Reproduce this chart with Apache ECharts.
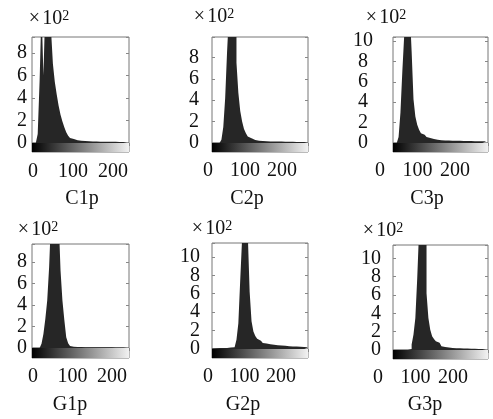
<!DOCTYPE html>
<html><head><meta charset="utf-8">
<script src="https://cdn.jsdelivr.net/npm/echarts@6/dist/echarts.min.js"></script>
<style>html,body{margin:0;padding:0;background:#fff}#c{width:493px;height:419px}</style>
</head><body><div id="c"></div>
<script>
// ---- data (counts in units of 10^2, bins of 5 gray levels starting at 0) ----
const BIN_WIDTH = 5;
const panelNames = ['C1p', 'C2p', 'C3p', 'G1p', 'G2p', 'G3p'];
const xTickLabels = [0, 100, 200];
const yMaxC1 = 9.4, yMaxC2 = 9.9, yMaxC3 = 10.4, yMaxG1 = 9.65, yMaxG2 = 11.5, yMaxG3 = 11.45;
const histC1 = [0,0,0,0.8,5.5,12,6,12,12,12, 10,7.0,5.4,4.3,3.3,2.5,1.9,1.4,0.95,0.65, 0.45,0.35,0.28,0.24,0.21,0.19,0.18,0.17,0.16,0.15, 0.15,0.14,0.14,0.13,0.13,0.12,0.12,0.12,0.11,0.11, 0.11,0.1,0.1,0.1,0.1,0.09,0.09,0.09,0.08,0.08,0.08];
const histC2 = [0,0,0,0,0.05,0.3,1.5,4.2,8.5,12, 12,12,12,7.5,4.7,3.0,2.0,1.3,0.92,0.6, 0.45,0.34,0.28,0.24,0.21,0.19,0.18,0.17,0.16,0.15, 0.15,0.14,0.14,0.14,0.13,0.13,0.13,0.12,0.12,0.12, 0.12,0.11,0.11,0.11,0.1,0.1,0.1,0.1,0.1,0.09,0.09];
const histC3 = [0,0,0.02,0.6,3.0,7.0,10.5,13,13,13, 9,4.3,2.6,1.8,1.3,0.95,0.8,0.67,0.58,0.5, 0.45,0.4,0.36,0.33,0.3,0.27,0.26,0.25,0.25,0.24, 0.23,0.23,0.22,0.22,0.21,0.21,0.2,0.2,0.2,0.19, 0.19,0.19,0.18,0.18,0.18,0.18,0.17,0.17,0.17,0.17,0.17];
const histG1 = [0,0,0,0,0.05,0.4,1.3,2.7,4.4,7.5, 12,12,12,12,12,7.2,4.4,2.6,1.0,0.45, 0.18,0.12,0.1,0.1,0.09,0.09,0.08,0.08,0.08,0.08, 0.07,0.07,0.07,0.07,0.07,0.06,0.06,0.06,0.06,0.06, 0.06,0.06,0.05,0.05,0.05,0.05,0.05,0.05,0.05,0.05,0.05];
const histG2 = [0.05,0.08,0.1,0.1,0.1,0.1,0.12,0.12,0.14,0.15, 0.17,0.2,0.35,1.0,2.8,7.5,12,13,13,12.5, 6.2,3.0,1.9,1.4,1.1,0.9,0.75,0.65,0.6,0.56, 0.52,0.5,0.47,0.45,0.42,0.4,0.38,0.36,0.34,0.32, 0.3,0.29,0.28,0.27,0.26,0.25,0.24,0.23,0.22,0.21,0.2];
const histG3 = [0,0,0,0,0,0,0,0,0,0.1, 0.6,1.7,3.5,7.8,13,13,13,13,6.2,3.5, 2.2,1.5,1.2,0.95,0.8,0.6,0.42,0.34,0.3,0.27, 0.25,0.23,0.21,0.2,0.19,0.18,0.17,0.16,0.15,0.15, 0.14,0.14,0.13,0.13,0.12,0.12,0.11,0.11,0.1,0.1,0.1];
const grayMax = 255;

const hists = [histC1, histC2, histC3, histG1, histG2, histG3];
const yMaxes = [yMaxC1, yMaxC2, yMaxC3, yMaxG1, yMaxG2, yMaxG3];

// ---- layout (pixels) ----
const layout = [
  {l:32, t:37, w:97, h:106, cb:9, gap:5,  yAlign:'right',  xl0:33,  xl2:113, xlY:172, tx:82,  ty:199, sx:49,  sy:19},
  {l:212,t:37, w:96, h:106, cb:9, gap:13, yAlign:'right',  xl0:208, xl2:282, xlY:171, tx:247, ty:199, sx:214, sy:17},
  {l:393,t:37, w:95, h:106, cb:9, gap:30, yAlign:'center', xl0:380, xl2:455, xlY:171, tx:427, ty:199, sx:386, sy:18},
  {l:32, t:244,w:97, h:104, cb:10,gap:5,  yAlign:'right',  xl0:33,  xl2:112, xlY:377, tx:70,  ty:405, sx:38,  sy:230},
  {l:212,t:243,w:96, h:106, cb:9, gap:12, yAlign:'right',  xl0:208, xl2:281, xlY:377, tx:243, ty:405, sx:212, sy:229},
  {l:393,t:245,w:95, h:105, cb:9, gap:12, yAlign:'right',  xl0:378, xl2:453, xlY:378, tx:425, ty:405, sx:383, sy:231}
];

const FONT = 'Liberation Serif, Times New Roman, serif';
const FS = 20;
const grid = [], xAxis = [], yAxis = [], series = [], graphic = [];

hists.forEach((h, i) => {
  const L = layout[i];
  const g0 = grid.length;
  const u = (L.xl2 - L.xl0) / 200;           // px per gray level on the label row
  const ppu = L.h / yMaxes[i];               // px per count unit
  grid.push({left:L.l, top:L.t, width:L.w, height:L.h, show:true, borderColor:'#777', borderWidth:1, backgroundColor:'#fff', containLabel:false});
  grid.push({left:L.l, top:L.t + L.h, width:L.w, height:L.cb, show:true, borderColor:'#777', borderWidth:1, containLabel:false});
  grid.push({left:L.xl0 - 50 * u, top:L.xlY - 21, width:300 * u, height:1, show:false, containLabel:false});
  grid.push({left:L.l, top:L.t, width:L.w, height:L.h + 2 * ppu, show:false, containLabel:false});

  const xa = xAxis.length, ya = yAxis.length;
  xAxis.push({gridIndex:g0, type:'value', position:'top', min:0, max:grayMax, interval:100,
    axisLine:{show:false}, axisTick:{show:true, inside:true, length:3, lineStyle:{color:'#888'}},
    axisLabel:{show:false}, splitLine:{show:false}});
  xAxis.push({gridIndex:g0+1, type:'value', min:0, max:grayMax, show:false});
  xAxis.push({gridIndex:g0+2, type:'value', min:-50, max:250, interval:50,
    axisLine:{show:false}, axisTick:{show:false}, splitLine:{show:false},
    axisLabel:{show:true, margin:10, color:'#111', fontFamily:FONT, fontSize:FS, hideOverlap:false,
      formatter: v => xTickLabels.indexOf(v) >= 0 ? String(v) : ''}});
  xAxis.push({gridIndex:g0+3, type:'value', min:0, max:grayMax, show:false});

  yAxis.push({gridIndex:g0, type:'value', min:0, max:yMaxes[i], interval:2, position:'left',
    axisLine:{show:false}, axisTick:{show:true, inside:true, length:3, lineStyle:{color:'#888'}},
    axisLabel:{show:false}, splitLine:{show:false}});
  yAxis.push({gridIndex:g0, type:'value', min:0, max:yMaxes[i], interval:2, position:'right',
    axisLine:{show:false}, axisTick:{show:true, inside:true, length:3, lineStyle:{color:'#888'}},
    axisLabel:{show:false}, splitLine:{show:false}});
  yAxis.push({gridIndex:g0+1, type:'category', data:['gray'], show:false});
  yAxis.push({gridIndex:g0+2, type:'value', show:false});
  // y tick-label axis (extends 2 units below zero so "0" is not the edge label)
  yAxis.push({gridIndex:g0+3, type:'value', min:-2, max:yMaxes[i], interval:2, position:'left',
    axisLine:{show:false}, axisTick:{show:false}, splitLine:{show:false},
    axisLabel:{show:true, margin:L.gap, align:L.yAlign, color:'#111', fontFamily:FONT, fontSize:FS, hideOverlap:false,
      formatter: v => (v >= 0 && Math.abs(v % 2) < 1e-9 ? String(v) : '')}});

  const pts = h.map((v, k) => [k * BIN_WIDTH, v]);
  pts.push([grayMax, h[h.length - 1]]);
  series.push({type:'line', xAxisIndex:xa, yAxisIndex:ya, data:pts, step:'end', showSymbol:false, symbol:'none',
    lineStyle:{width:0}, areaStyle:{color:'#262626', opacity:1}, clip:true, silent:true});
  series.push({type:'bar', xAxisIndex:xa+1, yAxisIndex:ya+2, data:[grayMax], barWidth:'100%', silent:true,
    itemStyle:{color:new echarts.graphic.LinearGradient(0,0,1,0,[{offset:0,color:'#000'},{offset:1,color:'#f2f2f2'}])}});

  graphic.push({type:'text', x:L.tx, y:L.ty, style:{text:panelNames[i], font:FS+'px '+FONT, fill:'#111', align:'center', verticalAlign:'middle'}});
  graphic.push({type:'text', x:L.sx, y:L.sy, style:{text:'{m|×}{n|10}{s|2}', fill:'#111', align:'center', verticalAlign:'middle',
    rich:{m:{fontSize:FS, fontFamily:FONT, padding:[0,2,0,0]}, n:{fontSize:FS, fontFamily:FONT}, s:{fontSize:14, fontFamily:FONT, verticalAlign:'top'}}}});
});

const chart = echarts.init(document.getElementById('c'), null, {renderer:'canvas'});
chart.setOption({animation:false, backgroundColor:'#fff', grid, xAxis, yAxis, series, graphic});
</script></body></html>
